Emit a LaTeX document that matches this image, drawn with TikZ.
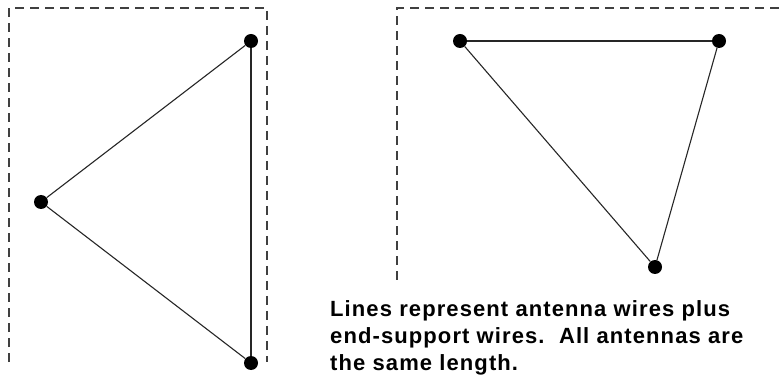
\documentclass[tikz,border=0pt]{standalone}
\usepackage{fontspec}
\setmainfont{Liberation Sans}
\usetikzlibrary{positioning}
\tikzset{
  wiredot/.style={circle,fill=black,inner sep=0pt,minimum size=14pt},
  wire/.style={draw=black!85,line width=1.1pt},
  endwire/.style={draw=black!85,line width=1.8pt},
  boxline/.style={draw=black!75,line width=1.5pt,dash pattern=on 9pt off 6pt},
  notetext/.style={anchor=north west,align=left,inner sep=0pt,
    font=\fontsize{22}{27}\selectfont\bfseries\addfontfeature{LetterSpace=5}}
}
\begin{document}
\begin{tikzpicture}[x=1pt,y=-1pt]
  \useasboundingbox (0,0) rectangle (779,379);

  % dashed outlines
  \draw[boxline] (9,362) -- (9,8) -- (267,8) -- (267,362);
  \draw[boxline] (397,280) -- (397,8) -- (779,8);

  % left triangle
  \node[wiredot] (lt) at (251,41) {};
  \node[wiredot] (lm) at (41,202) {};
  \node[wiredot] (lb) at (251,363) {};
  \foreach \f/\t in {lt/lm,lm/lb}
    \draw[wire] (\f) -- (\t);
  \draw[endwire] (lt) -- (lb);

  % right triangle
  \node[wiredot] (rl) at (460,41) {};
  \node[wiredot] (rr) at (719,41) {};
  \node[wiredot] (rb) at (655,267) {};
  \foreach \f/\t in {rl/rb,rb/rr}
    \draw[wire] (\f) -- (\t);
  \draw[endwire] (rl) -- (rr);

  \node[notetext] (note) at (330,300)
      {Lines represent antenna wires plus\\
       end-support wires.\ \ All antennas are\\
       the same length.};
\end{tikzpicture}
\end{document}
